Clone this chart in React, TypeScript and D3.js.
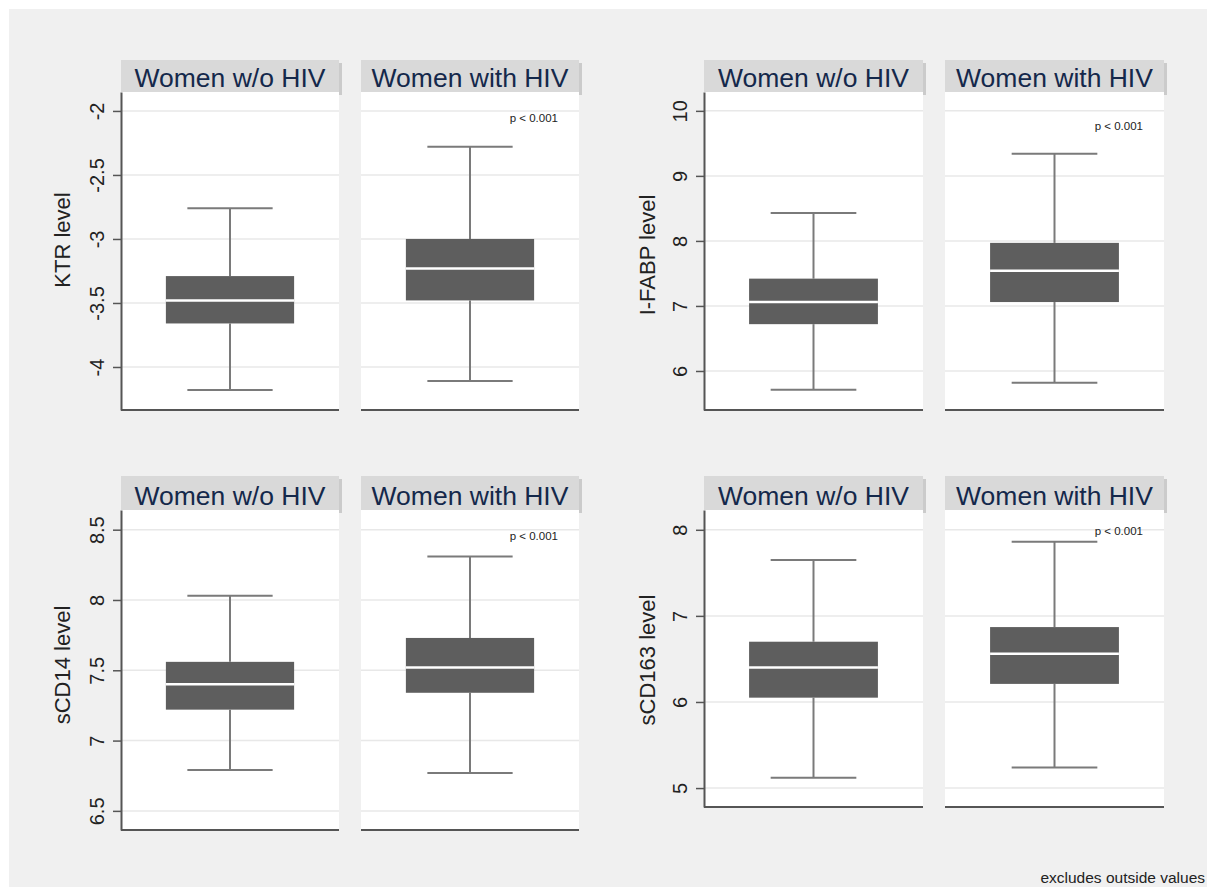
import { useEffect, useRef } from 'react';
import * as d3 from 'd3';

// groups shown in each pair of facets
const groups = ['Women w/o HIV', 'Women with HIV'];
const measures = ['KTR level', 'I-FABP level', 'sCD14 level', 'sCD163 level'];

// [upper whisker, Q3, median, Q1, lower whisker] per group
const ktrStats = [
  [-2.76, -3.29, -3.48, -3.66, -4.18],
  [-2.28, -3.0, -3.23, -3.48, -4.11],
];
const ifabpStats = [
  [8.43, 7.42, 7.06, 6.72, 5.71],
  [9.34, 7.97, 7.54, 7.06, 5.82],
];
const scd14Stats = [
  [8.03, 7.56, 7.4, 7.22, 6.79],
  [8.31, 7.73, 7.52, 7.34, 6.77],
];
const scd163Stats = [
  [7.65, 6.7, 6.4, 6.05, 5.12],
  [7.86, 6.87, 6.56, 6.21, 5.24],
];

const ktrTicks = [-2, -2.5, -3, -3.5, -4];
const ifabpTicks = [10, 9, 8, 7, 6];
const scd14Ticks = [8.5, 8, 7.5, 7, 6.5];
const scd163Ticks = [8, 7, 6, 5];

const pLabel = 'p < 0.001';
const note = 'excludes outside values';

const FONT = '"Liberation Sans", Arial, Helvetica, sans-serif';

export default function App() {
  const ref = useRef<SVGSVGElement>(null);

  useEffect(() => {
    if (!ref.current) return;
    const svg = d3.select(ref.current);
    svg.selectAll('*').remove();

    const width = 1207;
    const height = 887;

    svg.append('rect').attr('width', width).attr('height', height).attr('fill', '#ffffff');
    svg.append('rect').attr('x', 9).attr('y', 9).attr('width', width - 9).attr('height', height - 9).attr('fill', '#f0f0f0');

    const panels = [
      { stats: ktrStats, ticks: ktrTicks, domain: [-4.336, -1.852], facets: [[121, 339], [361, 579]], headerTop: 60, plotTop: 92, plotBottom: 410, titleX: 70, titleY: 240, pDy: 30 },
      { stats: ifabpStats, ticks: ifabpTicks, domain: [5.4, 10.29], facets: [[704, 923], [945, 1164]], headerTop: 60, plotTop: 92, plotBottom: 410, titleX: 655, titleY: 255, pDy: 38 },
      { stats: scd14Stats, ticks: scd14Ticks, domain: [6.364, 8.64], facets: [[121, 339], [361, 579]], headerTop: 476, plotTop: 510, plotBottom: 830, titleX: 70, titleY: 665, pDy: 30 },
      { stats: scd163Stats, ticks: scd163Ticks, domain: [4.78, 8.23], facets: [[704, 923], [945, 1164]], headerTop: 476, plotTop: 510, plotBottom: 807, titleX: 655, titleY: 660, pDy: 25 },
    ];

    panels.forEach((p, pi) => {
      const y = d3.scaleLinear().domain(p.domain).range([p.plotBottom, p.plotTop]);
      const g = svg.append('g');

      p.facets.forEach(([x0, x1], j) => {
        // header shadow, plot area, header strip
        g.append('rect')
          .attr('x', x0 + 3).attr('y', p.headerTop + 3)
          .attr('width', x1 - x0).attr('height', p.plotTop - p.headerTop)
          .attr('fill', '#cbcbcb');
        g.append('rect')
          .attr('x', x0).attr('y', p.plotTop)
          .attr('width', x1 - x0).attr('height', p.plotBottom - p.plotTop)
          .attr('fill', '#ffffff');
        g.append('rect')
          .attr('x', x0).attr('y', p.headerTop)
          .attr('width', x1 - x0).attr('height', p.plotTop - p.headerTop)
          .attr('fill', '#d9d9d9');
        g.append('text')
          .attr('x', (x0 + x1) / 2)
          .attr('y', p.plotTop - 5)
          .attr('text-anchor', 'middle')
          .attr('font-family', FONT)
          .attr('font-size', '26.5px')
          .attr('fill', '#14284b')
          .text(groups[j]);

        // grid
        p.ticks.forEach((t) => {
          g.append('line')
            .attr('x1', x0).attr('x2', x1)
            .attr('y1', y(t)).attr('y2', y(t))
            .attr('stroke', '#e8e8e8').attr('stroke-width', 1.5);
        });

        const xb = d3.scaleBand().domain([groups[j]]).range([x0, x1]).paddingOuter(0.35).paddingInner(0);
        const bx = xb(groups[j])!;
        const bw = xb.bandwidth();
        const cx = bx + bw / 2;
        const capW = bw * 0.665;
        const [hi, q3, med, q1, lo] = p.stats[j];

        const whiskerColor = '#7a7a7a';
        g.append('line').attr('x1', cx).attr('x2', cx).attr('y1', y(hi)).attr('y2', y(q3))
          .attr('stroke', whiskerColor).attr('stroke-width', 2);
        g.append('line').attr('x1', cx).attr('x2', cx).attr('y1', y(q1)).attr('y2', y(lo))
          .attr('stroke', whiskerColor).attr('stroke-width', 2);
        g.append('line').attr('x1', cx - capW / 2).attr('x2', cx + capW / 2).attr('y1', y(hi)).attr('y2', y(hi))
          .attr('stroke', whiskerColor).attr('stroke-width', 2);
        g.append('line').attr('x1', cx - capW / 2).attr('x2', cx + capW / 2).attr('y1', y(lo)).attr('y2', y(lo))
          .attr('stroke', whiskerColor).attr('stroke-width', 2);

        g.append('rect')
          .attr('x', bx).attr('y', y(q3))
          .attr('width', bw).attr('height', y(q1) - y(q3))
          .attr('fill', '#5e5e5e');
        g.append('line').attr('x1', bx).attr('x2', bx + bw).attr('y1', y(med)).attr('y2', y(med))
          .attr('stroke', '#ffffff').attr('stroke-width', 2.5);

        // bottom axis line
        g.append('line')
          .attr('x1', x0).attr('x2', x1)
          .attr('y1', p.plotBottom).attr('y2', p.plotBottom)
          .attr('stroke', '#555555').attr('stroke-width', 2);

        if (j === 1) {
          g.append('text')
            .attr('x', x1 - 21)
            .attr('y', p.plotTop + p.pDy)
            .attr('text-anchor', 'end')
            .attr('font-family', FONT)
            .attr('font-size', '11.5px')
            .attr('fill', '#222222')
            .text(pLabel);
        }
      });

      // y axis
      const axis = g.append('g')
        .attr('transform', `translate(${p.facets[0][0]},0)`)
        .call(d3.axisLeft(y).tickValues(p.ticks).tickSize(8).tickSizeOuter(0).tickFormat((d) => String(d)));
      axis.select('.domain').attr('stroke', '#555555').attr('stroke-width', 2);
      axis.selectAll('.tick line').attr('stroke', '#555555').attr('stroke-width', 1.5);
      axis.selectAll('.tick text')
        .attr('transform', 'rotate(-90)')
        .attr('x', 0)
        .attr('y', -17)
        .attr('dy', 0)
        .attr('text-anchor', 'middle')
        .attr('font-family', FONT)
        .attr('font-size', '20px')
        .attr('fill', '#222222');

      g.append('text')
        .attr('transform', `translate(${p.titleX},${p.titleY}) rotate(-90)`)
        .attr('text-anchor', 'middle')
        .attr('font-family', FONT)
        .attr('font-size', '22px')
        .attr('fill', '#222222')
        .text(measures[pi]);
    });

    svg.append('text')
      .attr('x', 1205)
      .attr('y', 883)
      .attr('text-anchor', 'end')
      .attr('font-family', FONT)
      .attr('font-size', '15.5px')
      .attr('fill', '#222222')
      .text(note);
  }, []);

  return (
    <svg
      ref={ref}
      width={1207}
      height={887}
      style={{ position: 'absolute', left: 0, top: 0, display: 'block' }}
    />
  );
}
